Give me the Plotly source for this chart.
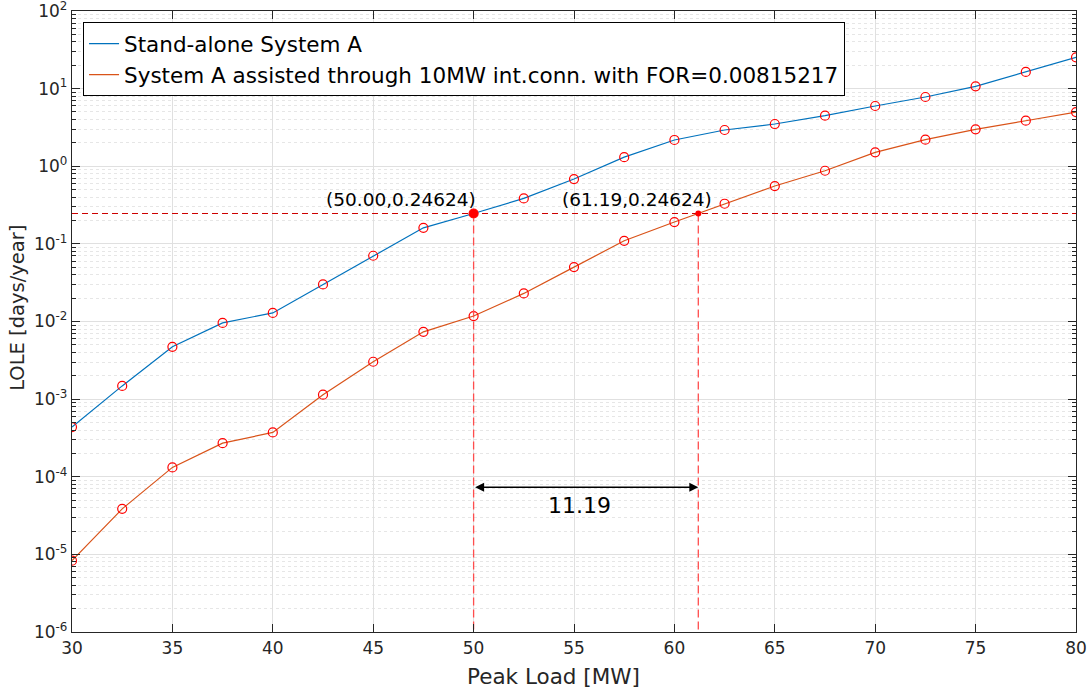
import math
import plotly.graph_objects as go

peak_load = [30, 32.5, 35, 37.5, 40, 42.5, 45, 47.5, 50, 52.5, 55, 57.5, 60,
             62.5, 65, 67.5, 70, 72.5, 75, 77.5, 80]
lole_standalone = [4.36e-4, 1.48e-3, 4.72e-3, 9.6e-3, 1.29e-2, 0.030, 0.0703, 0.161,
                   0.24624, 0.385, 0.684, 1.31, 2.18, 2.93, 3.5, 4.48, 5.97, 7.8,
                   10.7, 16.4, 25.3]
lole_assisted = [8.3e-6, 3.86e-5, 1.32e-4, 2.71e-4, 3.72e-4, 1.14e-3, 3.03e-3, 7.36e-3,
                 0.01175, 0.023, 0.0502, 0.1096, 0.191, 0.329, 0.556, 0.875, 1.51, 2.2,
                 2.99, 3.86, 4.99]
target_lole = 0.24624
x_standalone = 50.00
x_assisted = 61.19
arrow_level = 7.35e-5
y_exponents = [-6, -5, -4, -3, -2, -1, 0, 1, 2]
x_ticks = [30, 35, 40, 45, 50, 55, 60, 65, 70, 75, 80]

FONT = "DejaVu Sans"
BLUE = "#0072BD"
ORANGE = "#D95319"
AX = "#262626"

fig = go.Figure()

fig.add_trace(go.Scatter(x=peak_load, y=lole_standalone, mode="lines",
                         line=dict(color=BLUE, width=1.2),
                         name="Stand-alone System A"))
fig.add_trace(go.Scatter(x=peak_load, y=lole_assisted, mode="lines",
                         line=dict(color=ORANGE, width=1.2),
                         name="System A assisted through 10MW int.conn. with FOR=0.00815217"))
for ys in (lole_standalone, lole_assisted):
    fig.add_trace(go.Scatter(x=peak_load, y=ys, mode="markers", showlegend=False,
                             marker=dict(symbol="circle-open", size=9,
                                         color="#FF0000", line=dict(width=1.2))))

# horizontal reference line
fig.add_trace(go.Scatter(x=[x_ticks[0], x_ticks[-1]], y=[target_lole, target_lole],
                         mode="lines", showlegend=False,
                         line=dict(color="#CC0000", width=1, dash="6px,4px")))
# vertical lines
for xv in (x_standalone, x_assisted):
    fig.add_trace(go.Scatter(x=[xv, xv], y=[target_lole, 10.0 ** y_exponents[0]],
                             mode="lines", showlegend=False,
                             line=dict(color="#FF4D4D", width=1.3, dash="8px,4px")))
# filled points
fig.add_trace(go.Scatter(x=[x_standalone], y=[target_lole], mode="markers",
                         showlegend=False,
                         marker=dict(color="#FF0000", size=9)))
fig.add_trace(go.Scatter(x=[x_assisted], y=[target_lole], mode="markers",
                         showlegend=False,
                         marker=dict(color="#FF0000", size=6)))

ly = math.log10(target_lole)
annots = [
    dict(x=x_standalone, y=ly, xref="x", yref="y",
         text="(%.2f,%.5f)" % (x_standalone, target_lole), showarrow=False,
         xanchor="right", yanchor="bottom", xshift=4, yshift=2,
         font=dict(family=FONT, size=18.5, color="#000000")),
    dict(x=x_assisted, y=ly, xref="x", yref="y",
         text="(%.2f,%.5f)" % (x_assisted, target_lole), showarrow=False,
         xanchor="right", yanchor="bottom", xshift=16, yshift=2,
         font=dict(family=FONT, size=18.5, color="#000000")),
    dict(x=x_assisted, y=math.log10(arrow_level), ax=x_standalone,
         ay=math.log10(arrow_level), xref="x", yref="y", axref="x", ayref="y",
         text="", showarrow=True, arrowhead=2, arrowside="end+start",
         arrowsize=1.2, arrowwidth=1.5, arrowcolor="#000000"),
    dict(x=55.25, y=math.log10(arrow_level), xref="x", yref="y",
         text="%.2f" % (x_assisted - x_standalone), showarrow=False,
         yshift=-18, font=dict(family=FONT, size=22, color="#000000")),
    # axis titles
    dict(x=0.480, y=-0.0709, xref="paper", yref="paper", text="Peak Load [MW]",
         showarrow=False, xanchor="center", yanchor="middle",
         font=dict(family=FONT, size=21.5, color=AX)),
    dict(x=-0.0538, y=0.522, xref="paper", yref="paper", text="LOLE [days/year]",
         showarrow=False, xanchor="center", yanchor="middle", textangle=-90,
         font=dict(family=FONT, size=19.5, color=AX)),
]

minor_vals = []
for e in y_exponents[:-1]:
    for m in range(2, 10):
        minor_vals.append(m * 10.0 ** e)

fig.update_layout(
    width=1092, height=691,
    margin=dict(l=72, r=16, t=11, b=59),
    paper_bgcolor="white", plot_bgcolor="white",
    font=dict(family=FONT, color=AX),
    showlegend=True,
    legend=dict(x=0.011, y=0.982, xanchor="left", yanchor="top",
                bgcolor="white", bordercolor="#000000", borderwidth=1,
                font=dict(family=FONT, size=21.5, color="#000000"),
                itemwidth=30, tracegroupgap=0),
    annotations=annots,
)

fig.update_xaxes(
    range=[x_ticks[0], x_ticks[-1]], tickvals=x_ticks, automargin=False,
    ticks="inside", ticklen=8, tickcolor=AX, tickwidth=1,
    showline=True, linecolor=AX, linewidth=1.3, mirror="allticks",
    showgrid=True, gridcolor="#E0E0E0", gridwidth=1, zeroline=False,
    tickfont=dict(family=FONT, size=17, color=AX), ticklabeloverflow="allow",
)
fig.update_yaxes(
    type="log", range=[y_exponents[0], y_exponents[-1]], automargin=False,
    tickvals=[10.0 ** e for e in y_exponents],
    ticktext=["10<sup>%d</sup>" % e for e in y_exponents],
    ticks="inside", ticklen=8, tickcolor=AX, tickwidth=1,
    showline=True, linecolor=AX, linewidth=1.3, mirror="allticks",
    showgrid=True, gridcolor="#E0E0E0", gridwidth=1, zeroline=False,
    tickfont=dict(family=FONT, size=17, color=AX), ticklabeloverflow="allow",
    minor=dict(tickvals=minor_vals, ticks="inside", ticklen=4, tickcolor=AX,
               showgrid=True, gridcolor="#E6E6E6", griddash="dot", gridwidth=1),
)

fig.write_html("out.html")
